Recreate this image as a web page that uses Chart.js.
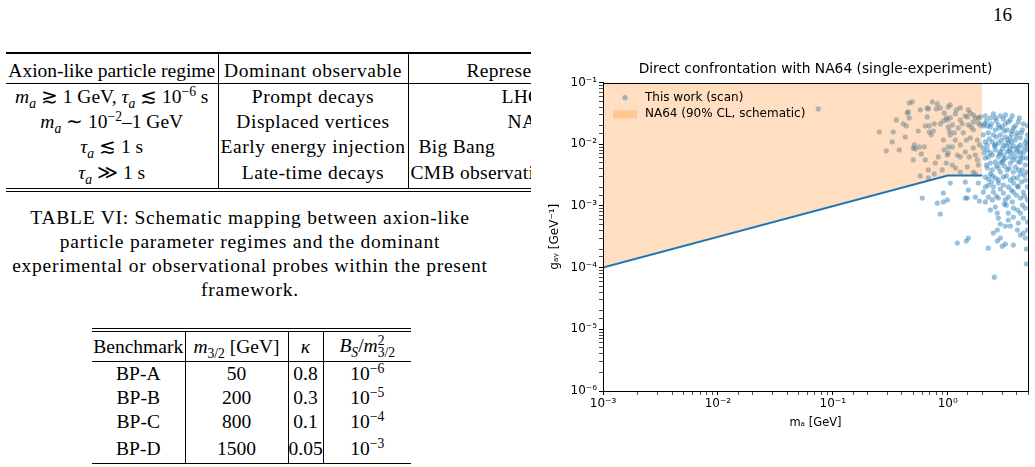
<!DOCTYPE html>
<html>
<head>
<meta charset="utf-8">
<script src="https://cdn.jsdelivr.net/npm/chart.js@4.4.0/dist/chart.umd.min.js"></script>
<style>
html, body { margin: 0; padding: 0; overflow: hidden; background: #fff; }
body { width: 1035px; height: 467px; position: relative; font-family: 'Liberation Serif', serif; color: #000; }
#pageno { position: absolute; left: 993px; top: 4px; font-size: 19px; }
#left { position: absolute; left: 0; top: 0; width: 531px; height: 467px; overflow: hidden; }
table { border-collapse: collapse; font-size: 19.5px; table-layout: fixed; }
td { padding: 0; text-align: center; white-space: nowrap; overflow: visible; }
td + td { border-left: 1px solid #000; }
sub, sup { font-size: 0.7em; line-height: 0; }
#t1 { position: absolute; left: 6px; top: 52px; width: 662px; border-top: 2px solid #000; border-bottom: 4px double #000; }
#t1 tr.head td { height: 30px; padding-top: 4px; border-bottom: 1px solid #000; box-sizing: border-box; }
#t1 tr td { height: 25px; line-height: 25px; }
#t1 tr.last td { height: 27px; padding-bottom: 2px; }
#t1 td.c2 { letter-spacing: 0.55px; }
#t1 td.c3 { text-align: left; letter-spacing: 0.3px; }
#cap { position: absolute; left: 0; top: 206px; width: 500px; text-align: center; font-size: 19.5px; line-height: 24px; letter-spacing: 0.75px; }
#t2 { position: absolute; left: 92px; top: 328px; width: 319px; border-top: 4px double #000; border-bottom: 1px solid #000; }
#t2 tr.head td { height: 29px; border-bottom: 1px solid #000; }
#t2 tr td { height: 24px; line-height: 24px; }
#t2 tr.last td { height: 29px; }
.stack { display: inline-block; vertical-align: middle; line-height: 0.9; font-size: 0.7em; text-align: left; }
.stack span { display: block; }
#fig { position: absolute; left: 540px; top: 52px; width: 551px; height: 378px; background: #fff; }
</style>
</head>
<body>
<div id="pageno">16</div>
<div id="left">
  <table id="t1">
    <colgroup><col style="width:212px"><col style="width:190px"><col style="width:260px"></colgroup>
    <tr class="head"><td>Axion-like particle regime</td><td class="c2">Dominant observable</td><td class="c3" style="padding-left:58px">Representative probes</td></tr>
    <tr><td><i>m</i><sub><i>a</i></sub> &#8819; 1 GeV, <i>&tau;</i><sub><i>a</i></sub> &#8818; 10<sup>&minus;6</sup> s</td><td class="c2">Prompt decays</td><td class="c3" style="padding-left:93px">LHC searches</td></tr>
    <tr><td><i>m</i><sub><i>a</i></sub> &sim; 10<sup>&minus;2</sup>&ndash;1 GeV</td><td class="c2">Displaced vertices</td><td class="c3" style="padding-left:99px">NA64, beam dumps</td></tr>
    <tr><td><i>&tau;</i><sub><i>a</i></sub> &#8818; 1 s</td><td class="c2">Early energy injection</td><td class="c3" style="padding-left:10px">Big Bang<span style="margin-left:70px">nucleosynthesis</span></td></tr>
    <tr class="last"><td><i>&tau;</i><sub><i>a</i></sub> &#8811; 1 s</td><td class="c2">Late-time decays</td><td class="c3" style="padding-left:2px">CMB observations</td></tr>
  </table>
  <div id="cap">TABLE VI: Schematic mapping between axion-like<br>particle parameter regimes and the dominant<br>experimental or observational probes within the present<br>framework.</div>
  <table id="t2">
    <colgroup><col style="width:93px"><col style="width:103px"><col style="width:35px"><col style="width:88px"></colgroup>
    <tr class="head"><td>Benchmark</td><td><i>m</i><sub>3/2</sub> [GeV]</td><td><i>&kappa;</i></td><td><i>B</i><sub><i>S</i></sub>/<i>m</i><span class="stack"><span>2</span><span>3/2</span></span></td></tr>
    <tr><td>BP-A</td><td>50</td><td>0.8</td><td>10<sup>&minus;6</sup></td></tr>
    <tr><td>BP-B</td><td>200</td><td>0.3</td><td>10<sup>&minus;5</sup></td></tr>
    <tr><td>BP-C</td><td>800</td><td>0.1</td><td>10<sup>&minus;4</sup></td></tr>
    <tr class="last"><td>BP-D</td><td>1500</td><td>0.05</td><td>10<sup>&minus;3</sup></td></tr>
  </table>
</div>
<div id="fig"><canvas id="na64Chart"></canvas></div>
<script>
// NA64 schematic 90% CL boundary (GeV, GeV^-1)
const na64Mass = [0.001, 1.0, 2.0];
const na64Coupling = [0.0001, 0.0031, 0.0031];

// scan points: m_a [GeV] and g_ay [GeV^-1]
const scanMass = [
  0.0747, 0.463, 0.491, 0.734, 0.812, 0.862, 0.796, 0.678, 0.454, 0.463,
  0.664, 1.012, 0.972, 0.992, 0.916, 0.862, 0.764, 0.691, 0.638, 0.410,
  0.436, 0.254, 0.336, 0.554, 0.691, 0.720, 0.749, 1.012, 1.033, 0.916,
  0.329, 0.512, 0.502, 0.522, 0.566, 0.625, 0.292, 0.379, 0.589, 1.012,
  0.992, 0.828, 0.502, 0.780, 0.972, 0.678, 0.577, 0.678, 0.764, 0.577,
  0.664, 0.445, 1.053, 1.287, 1.482, 1.671, 1.923, 1.053, 1.512, 1.671,
  1.847, 1.923, 1.165, 1.287, 1.423, 1.573, 1.740, 1.847, 1.097, 1.237,
  1.512, 1.671, 1.368, 1.053, 1.165, 1.573, 1.811, 1.287, 1.097, 1.671,
  1.423, 1.012, 1.212, 1.740, 1.287, 1.811, 1.097, 1.482, 1.847, 1.287,
  1.671, 0.934, 1.19, 1.34, 1.60, 1.14, 1.45, 1.89, 0.934, 1.54,
  1.17, 0.897, 1.74, 0.638, 0.427, 0.357,
  2.084, 2.213, 2.598, 2.989, 3.305, 3.654, 4.039, 2.258, 2.496, 2.872,
  3.175, 3.510, 3.880, 4.290, 4.742, 2.126, 2.446, 2.759, 3.050, 3.372,
  3.728, 4.121, 2.213, 2.598, 2.989, 3.305, 3.654, 4.039, 4.556, 2.258,
  2.759, 3.050, 3.510, 2.350, 2.651, 3.050, 3.372, 2.126, 2.126, 2.598,
  3.050, 3.510, 4.121, 4.742, 2.213, 2.446, 2.759, 3.305, 3.728, 4.465,
  2.126, 2.598, 3.050, 3.510, 4.039, 4.742, 1.053, 1.423, 1.847, 2.258,
  2.759, 3.372, 4.121, 1.512, 2.042, 2.496, 3.050, 3.728, 4.556, 1.423,
  1.740, 2.759, 4.290, 0.601, 0.812, 0.916, 0.992, 1.885, 2.126, 2.446,
  3.175, 3.654, 2.598, 3.239, 4.039, 4.742, 0.862, 2.704, 2.759, 3.372,
  3.728, 4.556, 2.872, 3.175, 4.121, 4.936, 2.704, 4.039, 2.496, 4.556,
  1.512, 1.452, 1.212, 2.704, 3.175, 4.742, 2.258, 2.989, 3.728, 4.838,
  4.838, 2.546, 0.916, 1.482,
  2.042, 2.350, 2.759, 3.175, 3.880, 4.465, 4.936, 4.290, 4.936, 2.042,
  2.350, 2.872, 3.880, 4.465, 2.350, 2.872, 3.880, 4.936, 2.350, 2.872,
  4.290, 2.496, 3.050, 3.728, 4.936, 2.258, 3.372, 4.936, 3.728, 4.290,
  3.372, 2.598, 3.510, 4.121, 2.872, 3.728, 3.305, 2.598, 3.510, 4.290,
  2.17, 2.40, 2.82, 3.11, 3.58, 3.96, 4.38, 4.84, 2.30, 2.65,
  2.93, 3.24, 3.58, 3.96, 4.65, 2.08, 2.45, 2.82, 3.18, 3.73,
  4.29, 4.84, 2.17, 2.65, 3.11, 3.44, 4.12, 4.65, 2.26, 2.76,
  3.24, 3.73, 4.38, 2.40, 2.87, 3.58, 3.96, 4.65, 2.65, 2.13,
  2.04, 4.94, 4.56, 4.20, 3.65, 3.18, 2.50, 4.94, 4.29, 3.44,
  2.55, 2.21, 2.99, 2.45, 4.04, 3.11, 2.35, 4.47, 3.51, 4.29,
  4.94, 2.87
];
const scanCoupling = [
  0.0374, 0.0468, 0.0486, 0.0486, 0.0451, 0.0388, 0.0374, 0.0374, 0.0334, 0.0267,
  0.0277, 0.0403, 0.0267, 0.0248, 0.0239, 0.0214, 0.0214, 0.0198, 0.0198, 0.0214,
  0.0198, 0.0158, 0.0158, 0.0164, 0.0158, 0.0142, 0.0164, 0.0191, 0.0164, 0.0117,
  0.0109, 0.00974, 0.00871, 0.00839, 0.00904, 0.00904, 0.00778, 0.00808, 0.00696, 0.00904,
  0.00670, 0.00622, 0.00556, 0.00497, 0.00497, 0.00383, 0.00306, 0.00284, 0.00330, 0.0360,
  0.0388, 0.0322, 0.0267, 0.0388, 0.0277, 0.0230, 0.0277, 0.0434, 0.0360, 0.0299,
  0.0267, 0.0206, 0.0310, 0.0248, 0.0288, 0.0322, 0.0267, 0.0222, 0.0206, 0.0184,
  0.0206, 0.0171, 0.0153, 0.0142, 0.0117, 0.0127, 0.0117, 0.00974, 0.00904, 0.00871,
  0.00750, 0.00722, 0.00670, 0.00670, 0.00622, 0.00556, 0.00461, 0.00428, 0.00461, 0.00355,
  0.00355, 0.0322, 0.0360, 0.0214, 0.0191, 0.0153, 0.0117, 0.00974, 0.00808, 0.00622,
  0.00412, 0.00383, 0.00330, 0.00556, 0.0131, 0.0248,
  0.0214, 0.0198, 0.0171, 0.0191, 0.0171, 0.0164, 0.0153, 0.0153, 0.0142, 0.0142,
  0.0131, 0.0127, 0.0117, 0.0127, 0.0105, 0.0109, 0.0109, 0.0105, 0.00974, 0.0105,
  0.00938, 0.00904, 0.00808, 0.00808, 0.00839, 0.00750, 0.00722, 0.00750, 0.00722, 0.00622,
  0.00622, 0.00670, 0.00622, 0.0267, 0.0239, 0.0257, 0.0230, 0.0288, 0.00599, 0.00516,
  0.00556, 0.00497, 0.00516, 0.00461, 0.00412, 0.00383, 0.00412, 0.00383, 0.00355, 0.00383,
  0.00294, 0.00284, 0.00294, 0.00263, 0.00284, 0.00263, 0.00235, 0.00244, 0.00235, 0.00218,
  0.00235, 0.00203, 0.00203, 0.00181, 0.00168, 0.00168, 0.00162, 0.00168, 0.00168, 0.00134,
  0.00139, 0.00134, 0.00134, 0.00134, 0.00111, 0.00116, 0.00125, 0.00120, 0.00116, 0.00125,
  0.00125, 0.00116, 0.000960, 0.00103, 0.000858, 0.000924, 0.000739, 0.000767, 0.000636, 0.000590,
  0.000661, 0.000636, 0.000508, 0.000472, 0.000528, 0.000548, 0.000406, 0.000406, 0.000363, 0.000363,
  0.000301, 0.000269, 0.000250, 0.000269, 0.000241, 0.000301, 0.000207, 0.000223, 0.000232, 0.000200,
  0.000115, 0.0000701, 0.00162, 0.00134,
  0.0142, 0.0191, 0.0206, 0.0214, 0.0198, 0.0171, 0.0142, 0.00974, 0.00808, 0.00871,
  0.00722, 0.00750, 0.00622, 0.00599, 0.00497, 0.00497, 0.00428, 0.00355, 0.00330, 0.00355,
  0.00330, 0.00203, 0.00218, 0.00235, 0.00203, 0.00139, 0.00139, 0.00125, 0.000924, 0.000767,
  0.000767, 0.0267, 0.0248, 0.0230, 0.0288, 0.0184, 0.0117, 0.00974, 0.00871, 0.00750,
  0.0239, 0.0214, 0.0184, 0.0164, 0.0147, 0.0136, 0.0153, 0.0117, 0.0122, 0.0131,
  0.0117, 0.00938, 0.0109, 0.00839, 0.00871, 0.00722, 0.00670, 0.00696, 0.00599, 0.00556,
  0.00516, 0.00599, 0.00461, 0.00444, 0.00444, 0.00412, 0.00383, 0.00318, 0.00273, 0.00263,
  0.00306, 0.00284, 0.00244, 0.00244, 0.00188, 0.00181, 0.00150, 0.00145, 0.00145, 0.00203,
  0.0198, 0.0198, 0.0214, 0.0267, 0.0288, 0.0299, 0.0310, 0.00974, 0.00622, 0.00778,
  0.00938, 0.00974, 0.00516, 0.00306, 0.00210, 0.00107, 0.000858, 0.00103, 0.000472, 0.000337,
  0.000406, 0.000301
];

const xRange = [0.001, 5];
const yRange = [1e-6, 0.1];

const SUP = { '-': '\u207B', '0': '\u2070', '1': '\u00B9', '2': '\u00B2', '3': '\u00B3', '4': '\u2074', '5': '\u2075', '6': '\u2076', '7': '\u2077', '8': '\u2078', '9': '\u2079' };
function decadeLabel(v) {
  const e = Math.log10(v);
  const r = Math.round(e);
  if (Math.abs(e - r) > 1e-6) return '';
  return '10' + String(r).split('').map(c => SUP[c]).join('');
}

// box round the axes, like the matplotlib spines
const framePlugin = {
  id: 'frame',
  afterDraw(chart) {
    const { ctx, chartArea: a } = chart;
    ctx.save();
    ctx.strokeStyle = '#000';
    ctx.lineWidth = 1;
    ctx.strokeRect(Math.round(a.left) + 0.5, Math.round(a.top) + 0.5, Math.round(a.right - a.left), Math.round(a.bottom - a.top));
    ctx.restore();
  }
};

// legend inside the axes, drawn above the shaded region
const insetLegend = {
  id: 'insetLegend',
  afterDatasetsDraw(chart) {
    const { ctx, chartArea: a } = chart;
    const [na64, scan] = chart.data.datasets;
    const rows = [{ ds: scan, kind: 'dot' }, { ds: na64, kind: 'patch' }];
    ctx.save();
    ctx.font = "12px 'DejaVu Sans'";
    ctx.textBaseline = 'middle';
    rows.forEach((r, i) => {
      const y = a.top + 15 + i * 16.6;
      const x = a.left + 10;
      if (r.kind === 'dot') {
        ctx.fillStyle = r.ds.backgroundColor;
        ctx.beginPath();
        ctx.arc(x + 12, y, r.ds.pointRadius, 0, Math.PI * 2);
        ctx.fill();
      } else {
        ctx.fillStyle = r.ds.backgroundColor;
        ctx.fillRect(x, y - 4, 24, 8);
      }
      ctx.fillStyle = '#000';
      ctx.fillText(r.ds.label, x + 32, y);
    });
    ctx.restore();
  }
};

Chart.defaults.font.family = "'DejaVu Sans', sans-serif";
Chart.defaults.font.size = 12;
Chart.defaults.color = '#000';

const axisCommon = {
  type: 'logarithmic',
  grid: { drawOnChartArea: false, drawTicks: true, tickLength: 4, tickColor: '#000',
          tickWidth: ctx => (ctx.tick && decadeLabel(ctx.tick.value) ? 1 : 0.7) },
  border: { display: true, color: '#000', width: 1 },
  ticks: { autoSkip: false, maxRotation: 0, padding: 2, color: '#000', font: { size: 12 },
           callback: v => decadeLabel(v) }
};

new Chart(document.getElementById('na64Chart'), {
  type: 'scatter',
  data: {
    datasets: [
      {
        type: 'line',
        label: 'NA64 (90% CL, schematic)',
        data: na64Mass.map((m, i) => ({ x: m, y: na64Coupling[i] })),
        borderColor: '#1f77b4',
        borderWidth: 2,
        pointRadius: 0,
        tension: 0,
        fill: 'end',
        backgroundColor: 'rgba(255,127,14,0.26)'
      },
      {
        label: 'This work (scan)',
        data: scanMass.map((m, i) => ({ x: m, y: scanCoupling[i] })),
        pointRadius: 2.6,
        pointBorderWidth: 0,
        backgroundColor: 'rgba(31,119,180,0.45)',
        borderColor: 'rgba(0,0,0,0)'
      }
    ]
  },
  options: {
    responsive: true,
    maintainAspectRatio: false,
    animation: false,
    layout: { padding: 0 },
    plugins: {
      title: {
        display: true,
        text: 'Direct confrontation with NA64 (single-experiment)',
        font: { size: 13.8, weight: 'normal' },
        color: '#000',
        padding: { top: 9, bottom: 5 }
      },
      legend: { display: false },
      tooltip: { enabled: false }
    },
    scales: {
      x: Object.assign({}, axisCommon, {
        min: xRange[0], max: xRange[1],
        title: { display: true, text: 'm\u2090 [GeV]', font: { size: 11.5 }, color: '#000', padding: { top: 3, bottom: 0 } },
        afterFit: s => { s.height = 39; }
      }),
      y: Object.assign({}, axisCommon, {
        min: yRange[0], max: yRange[1],
        title: { display: true, text: 'g\u2090\u1D67 [GeV\u207B\u00B9]', font: { size: 12 }, color: '#000', padding: { top: 8, bottom: 0 } },
        afterFit: s => { s.width = 63; }
      }),
      // empty right-hand box, same width as the left axis, keeps the title centred on the axes
      yRight: {
        type: 'linear', position: 'right', display: true,
        grid: { display: false, drawTicks: false }, border: { display: false },
        ticks: { display: false },
        afterFit: s => { s.width = 63; }
      }
    }
  },
  plugins: [framePlugin, insetLegend]
});
</script>
</body>
</html>
